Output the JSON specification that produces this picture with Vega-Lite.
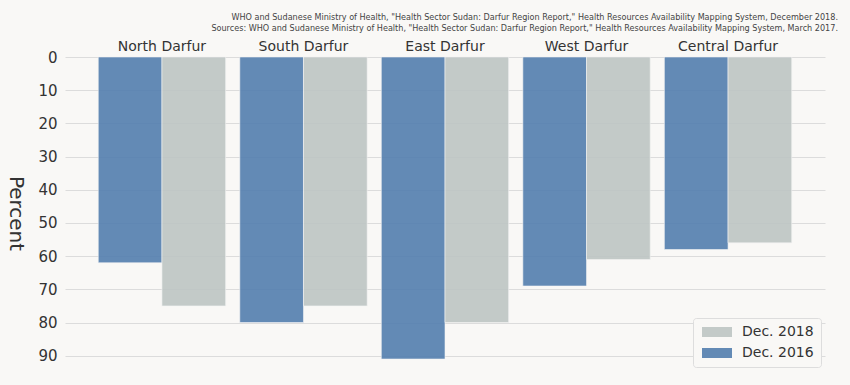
{
  "$schema": "https://vega.github.io/schema/vega-lite/v6.json",
  "autosize": {"type": "none"},
  "width": 760,
  "height": 312,
  "padding": {"left": 65, "top": 57, "right": 25, "bottom": 16},
  "background": "#f9f8f6",
  "config": {
    "font": "DejaVu Sans",
    "view": {"stroke": null},
    "axis": {"domain": false, "ticks": false}
  },
  "title": {
    "text": [
      "WHO and Sudanese Ministry of Health, \"Health Sector Sudan: Darfur Region Report,\" Health Resources Availability Mapping System, December 2018.",
      "Sources: WHO and Sudanese Ministry of Health, \"Health Sector Sudan: Darfur Region Report,\" Health Resources Availability Mapping System, March 2017."
    ],
    "anchor": "end",
    "frame": "group",
    "dx": 13,
    "fontSize": 8.1,
    "fontWeight": "normal",
    "color": "#444444",
    "lineHeight": 11,
    "offset": 6
  },
  "data": {
    "values": [
      {"region": "North Darfur", "period": "Dec. 2016", "percent": 62},
      {"region": "North Darfur", "period": "Dec. 2018", "percent": 75},
      {"region": "South Darfur", "period": "Dec. 2016", "percent": 80},
      {"region": "South Darfur", "period": "Dec. 2018", "percent": 75},
      {"region": "East Darfur", "period": "Dec. 2016", "percent": 91},
      {"region": "East Darfur", "period": "Dec. 2018", "percent": 80},
      {"region": "West Darfur", "period": "Dec. 2016", "percent": 69},
      {"region": "West Darfur", "period": "Dec. 2018", "percent": 61},
      {"region": "Central Darfur", "period": "Dec. 2016", "percent": 58},
      {"region": "Central Darfur", "period": "Dec. 2018", "percent": 56}
    ]
  },
  "mark": {"type": "bar", "stroke": "#f4f4f4", "strokeWidth": 0.6, "fillOpacity": 0.9},
  "encoding": {
    "x": {
      "field": "region",
      "type": "nominal",
      "sort": ["North Darfur", "South Darfur", "East Darfur", "West Darfur", "Central Darfur"],
      "scale": {"paddingInner": 0.1, "paddingOuter": 0.235},
      "axis": {"orient": "top", "title": null, "labelAngle": 0, "labelFontSize": 14, "labelColor": "#333333", "labelPadding": 4, "grid": false}
    },
    "xOffset": {
      "field": "period",
      "type": "nominal",
      "sort": ["Dec. 2016", "Dec. 2018"],
      "scale": {"paddingInner": 0, "paddingOuter": 0}
    },
    "y": {
      "field": "percent",
      "type": "quantitative",
      "scale": {"domain": [0, 94], "reverse": true, "nice": false},
      "axis": {
        "title": "Percent",
        "titleAngle": 90,
        "titleX": -50,
        "titleY": 156,
        "titleAlign": "center",
        "titleBaseline": "middle",
        "titleFontSize": 20,
        "titleFontWeight": "normal",
        "titleColor": "#333333",
        "values": [0, 10, 20, 30, 40, 50, 60, 70, 80, 90],
        "labelFontSize": 15,
        "labelColor": "#333333",
        "labelPadding": 8,
        "grid": true,
        "gridColor": "#dcdcdc",
        "gridWidth": 1
      }
    },
    "color": {
      "field": "period",
      "type": "nominal",
      "scale": {"domain": ["Dec. 2018", "Dec. 2016"], "range": ["#bdc4c3", "#527dae"]},
      "legend": {
        "title": null,
        "orient": "none",
        "legendX": 628,
        "legendY": 261,
        "padding": 7,
        "fillColor": "#f9f8f6",
        "strokeColor": "#dddddd",
        "cornerRadius": 3,
        "symbolType": "M-3,-1H3V1H-3Z",
        "symbolSize": 100,
        "symbolOffset": 10,
        "symbolStrokeWidth": 0,
        "symbolOpacity": 0.9,
        "labelFontSize": 14,
        "labelColor": "#333333",
        "labelOffset": 18,
        "rowPadding": 7
      }
    }
  }
}
